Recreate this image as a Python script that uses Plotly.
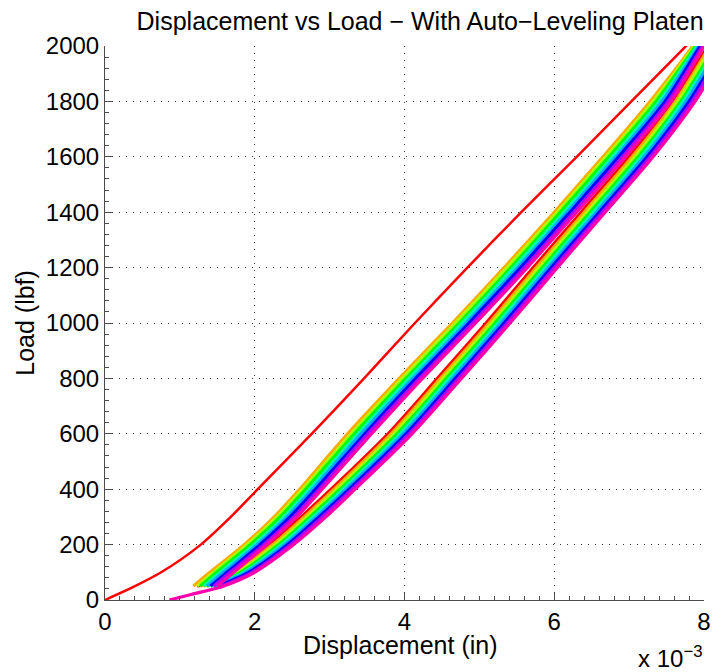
import plotly.graph_objects as go

# Colours of the nine load/unload cycles (hsv colormap, 9 steps)
cycle_colors = ["#FF0000", "#FFAA00", "#AAFF00", "#00FF00", "#00FFAA",
                "#00AAFF", "#0000FF", "#AA00FF", "#FF00AA"]

# ---- first loading curve (cycle 0, red), displacement in 1e-3 in ----
init_load = [0, 50, 100, 200, 300, 400, 600, 800, 1000, 1200, 1400, 1600, 1800, 2000, 2060]
init_disp = [0, 0.40, 0.75, 1.28, 1.68, 2.04, 2.76, 3.46, 4.14, 4.84, 5.56, 6.30, 7.03, 7.76, 7.98]

# ---- re-loading curves, cycles 1..8 (upper band) ----
reload_load = [50, 100, 200, 300, 400, 600, 800, 1000, 1200, 1400, 1600, 1800, 2000, 2060]
reload_disp = [
    [1.18, 1.40, 1.86, 2.26, 2.60, 3.24, 3.93, 4.64, 5.33, 6.00, 6.65, 7.28, 7.85, 8.00],
    [1.23, 1.45, 1.90, 2.30, 2.64, 3.29, 3.97, 4.68, 5.37, 6.04, 6.69, 7.32, 7.87, 8.02],
    [1.27, 1.49, 1.94, 2.34, 2.68, 3.33, 4.02, 4.73, 5.42, 6.08, 6.73, 7.36, 7.89, 8.04],
    [1.32, 1.54, 1.99, 2.39, 2.73, 3.38, 4.06, 4.77, 5.46, 6.13, 6.78, 7.40, 7.91, 8.06],
    [1.36, 1.58, 2.03, 2.43, 2.77, 3.42, 4.11, 4.82, 5.51, 6.17, 6.82, 7.44, 7.93, 8.08],
    [1.41, 1.63, 2.07, 2.47, 2.81, 3.47, 4.15, 4.86, 5.55, 6.21, 6.86, 7.48, 7.95, 8.10],
    [1.45, 1.67, 2.12, 2.52, 2.86, 3.51, 4.20, 4.91, 5.60, 6.26, 6.91, 7.52, 7.98, 8.12],
    [1.50, 1.72, 2.16, 2.56, 2.90, 3.56, 4.24, 4.95, 5.64, 6.30, 6.95, 7.56, 8.00, 8.14],
]

# ---- unloading curves, cycles 0..8 (lower band) ----
unload_load = [2060, 2000, 1800, 1600, 1400, 1200, 1000, 800, 600, 400, 300, 200, 100, 50]
unload_disp = [
    [8.18, 8.05, 7.58, 7.00, 6.36, 5.72, 5.09, 4.44, 3.78, 3.02, 2.62, 2.20, 1.70, 1.23],
    [8.21, 8.08, 7.62, 7.04, 6.40, 5.76, 5.13, 4.48, 3.82, 3.06, 2.66, 2.24, 1.74, 1.27],
    [8.24, 8.11, 7.65, 7.08, 6.44, 5.80, 5.17, 4.52, 3.86, 3.10, 2.70, 2.28, 1.78, 1.32],
    [8.28, 8.15, 7.69, 7.12, 6.48, 5.84, 5.21, 4.56, 3.90, 3.14, 2.74, 2.32, 1.81, 1.36],
    [8.31, 8.18, 7.72, 7.16, 6.52, 5.88, 5.25, 4.60, 3.94, 3.18, 2.78, 2.36, 1.85, 1.41],
    [8.35, 8.21, 7.76, 7.20, 6.56, 5.92, 5.29, 4.64, 3.98, 3.22, 2.82, 2.40, 1.88, 1.45],
    [8.38, 8.25, 7.80, 7.24, 6.60, 5.96, 5.33, 4.68, 4.02, 3.26, 2.86, 2.44, 1.92, 1.50],
    [8.42, 8.28, 7.84, 7.28, 6.64, 6.00, 5.37, 4.72, 4.06, 3.30, 2.90, 2.48, 1.96, 1.55],
    [8.45, 8.32, 7.88, 7.32, 6.68, 6.04, 5.41, 4.76, 4.10, 3.34, 2.95, 2.52, 2.00, 1.58],
]

# final unloading tail of the last cycle down to zero load
tail_load = [50, 20, 0]
tail_disp = [1.58, 1.15, 0.86]

x_ticks = [0, 2, 4, 6, 8]
y_ticks = [0, 200, 400, 600, 800, 1000, 1200, 1400, 1600, 1800, 2000]

fig = go.Figure()
for k, col in enumerate(cycle_colors):
    if k == 0:
        lx, ly, w = init_disp, init_load, 2.5
    else:
        lx, ly, w = reload_disp[k - 1], reload_load, 3.2
    fig.add_trace(go.Scatter(x=lx, y=ly, mode="lines",
                             line=dict(color=col, width=w, shape="spline", smoothing=0.8),
                             showlegend=False, hoverinfo="skip"))
    ux, uy = list(unload_disp[k]), list(unload_load)
    if k == len(cycle_colors) - 1:
        ux += tail_disp[1:]
        uy += tail_load[1:]
    fig.add_trace(go.Scatter(x=ux, y=uy, mode="lines",
                             line=dict(color=col, width=3.2, shape="spline", smoothing=0.8),
                             showlegend=False, hoverinfo="skip"))

font_family = "Liberation Sans, Arial, sans-serif"
axis_common = dict(
    showline=True, linecolor="#4d4d4d", linewidth=1,
    ticks="inside", ticklen=7, tickcolor="#4d4d4d", tickwidth=1,
    showgrid=True, gridcolor="#333333", gridwidth=1, griddash="1px,6px",
    zeroline=False, automargin=False,
    tickfont=dict(family=font_family, size=24, color="black"),
)

# the page adds an 8px body margin, so margins are offset to place the axes
fig.update_layout(
    width=722, height=672,
    margin=dict(l=97, r=26, t=38, b=80),
    paper_bgcolor="white", plot_bgcolor="white",
    title=dict(text="Displacement vs Load \u2212 With Auto\u2212Leveling Platen",
               xref="paper", x=0.526, xanchor="center",
               yref="container", y=0.98, yanchor="middle",
               font=dict(family=font_family, size=25, color="black")),
    xaxis=dict(range=[0, 8], tickvals=x_ticks, ticktext=[str(v) for v in x_ticks],
               minor=dict(ticks="inside", ticklen=4, dtick=0.2, tickcolor="#4d4d4d", showgrid=False),
               **axis_common),
    yaxis=dict(range=[0, 2000], tickvals=y_ticks, ticktext=[str(v) for v in y_ticks],
               minor=dict(ticks="inside", ticklen=4, dtick=40, tickcolor="#4d4d4d", showgrid=False),
               **axis_common),
    annotations=[
        dict(text="Displacement (in)", xref="paper", yref="paper", x=0.494, y=-0.081,
             xanchor="center", yanchor="middle", showarrow=False,
             font=dict(family=font_family, size=25, color="black")),
        dict(text="Load (lbf)", xref="paper", yref="paper", x=-0.134, y=0.5, textangle=-90,
             xanchor="center", yanchor="middle", showarrow=False,
             font=dict(family=font_family, size=25, color="black")),
        dict(text="x 10<sup>\u22123</sup>", xref="paper", yref="paper",
             x=1.002, y=-0.102, xanchor="right", yanchor="middle", showarrow=False,
             font=dict(family=font_family, size=24, color="black")),
    ],
)

fig.write_html("out.html")
